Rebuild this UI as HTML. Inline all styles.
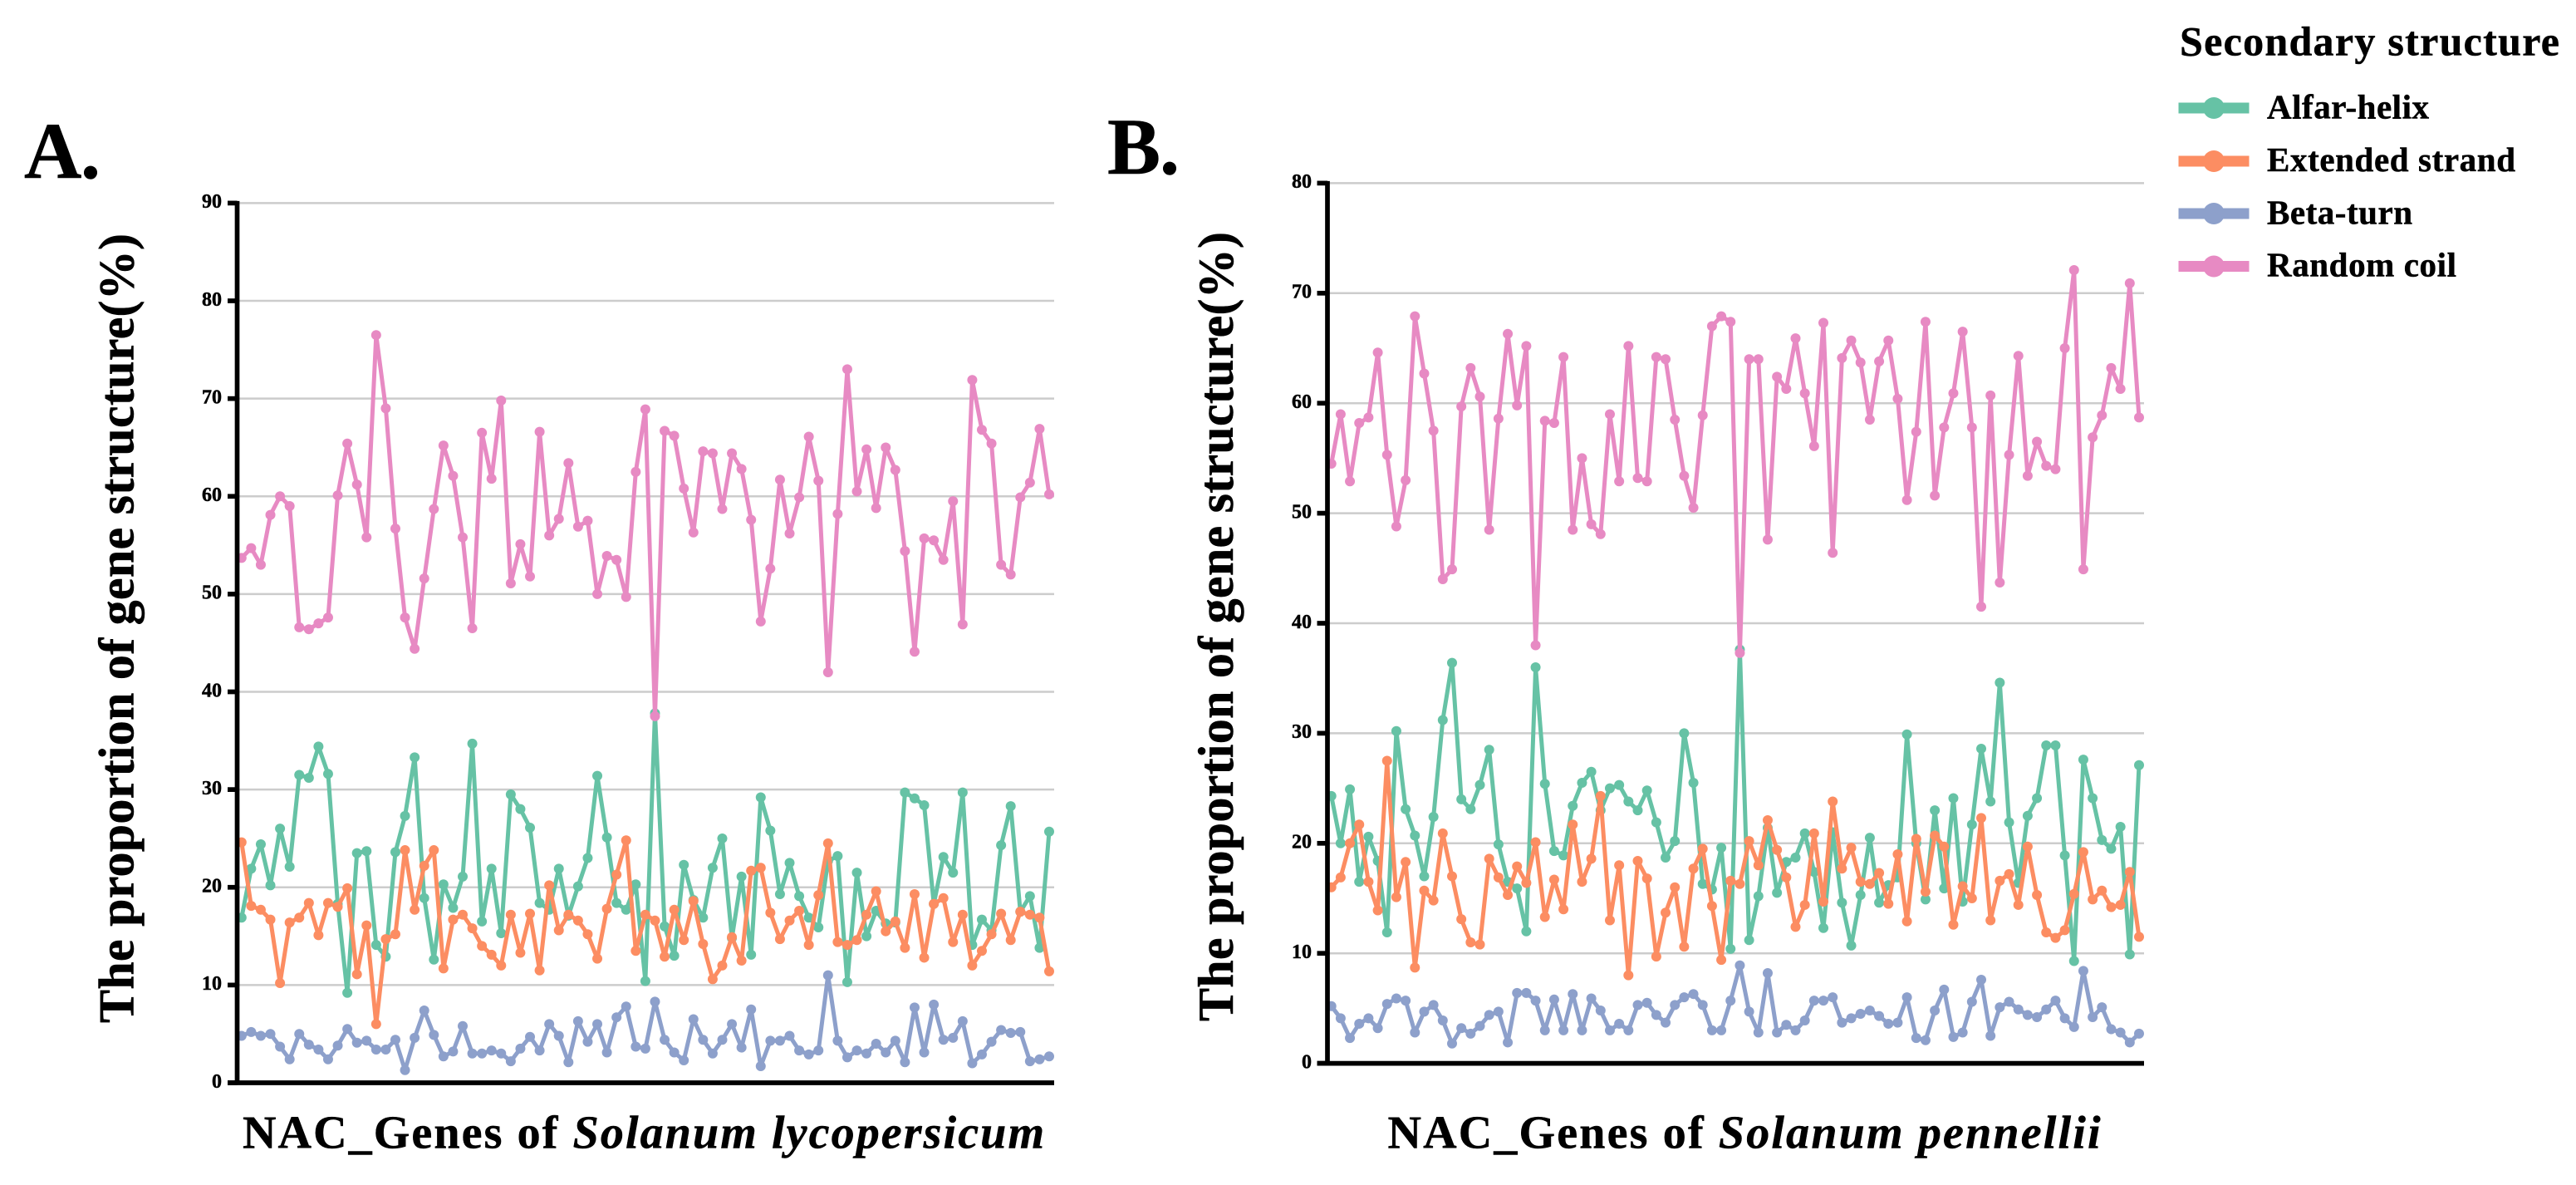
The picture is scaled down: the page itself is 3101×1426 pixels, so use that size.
<!DOCTYPE html>
<html lang="en">
<head>
<meta charset="utf-8">
<title>Secondary structure of NAC genes</title>
<style>
html,body{margin:0;padding:0;background:#fff;}
svg{display:block;font-family:"Liberation Serif",serif;font-weight:bold;fill:#000;}
svg text{stroke:#000;stroke-width:0.5px;}
</style>
</head>
<body>
<svg id="figure" width="3101" height="1426" viewBox="0 0 3101 1426" xmlns="http://www.w3.org/2000/svg">
  <rect x="0" y="0" width="3101" height="1426" fill="#fff"/>
  <text x="29" y="214" font-size="96" textLength="92" lengthAdjust="spacing">A.</text>
  <text x="1333" y="209" font-size="96" textLength="87" lengthAdjust="spacing">B.</text>

  <g id="chart-a"></g>
  <g id="chart-b"></g>

  <text transform="translate(160.5,1231) rotate(-90)" font-size="60" textLength="950" lengthAdjust="spacing">The proportion of gene structure(%)</text>
  <text transform="translate(1484,1229) rotate(-90)" font-size="60" textLength="950" lengthAdjust="spacing">The proportion of gene structure(%)</text>
  <text x="292" y="1381.5" font-size="56" textLength="965" lengthAdjust="spacing">NAC_Genes of <tspan font-style="italic">Solanum lycopersicum</tspan></text>
  <text x="1670.5" y="1381.5" font-size="56" textLength="858" lengthAdjust="spacing">NAC_Genes of <tspan font-style="italic">Solanum pennellii</tspan></text>

  <g>
    <text x="2624" y="66.5" font-size="50" textLength="457" lengthAdjust="spacing">Secondary structure</text>
    <g>
      <rect x="2622.5" y="123.5" width="85" height="13" fill="#66c2a5"/>
      <circle cx="2665" cy="130" r="13" fill="#66c2a5"/>
      <text x="2729" y="142.5" font-size="41" textLength="195" lengthAdjust="spacing">Alfar-helix</text>
    </g>
    <g>
      <rect x="2622.5" y="187.5" width="85" height="13" fill="#fc8d62"/>
      <circle cx="2665" cy="194" r="13" fill="#fc8d62"/>
      <text x="2729" y="206" font-size="41" textLength="299" lengthAdjust="spacing">Extended strand</text>
    </g>
    <g>
      <rect x="2622.5" y="250.5" width="85" height="13" fill="#8da0cb"/>
      <circle cx="2665" cy="257" r="13" fill="#8da0cb"/>
      <text x="2729" y="269.5" font-size="41" textLength="175" lengthAdjust="spacing">Beta-turn</text>
    </g>
    <g>
      <rect x="2622.5" y="314" width="85" height="13" fill="#e78ac3"/>
      <circle cx="2665" cy="320.5" r="13" fill="#e78ac3"/>
      <text x="2729" y="332.5" font-size="41" textLength="228" lengthAdjust="spacing">Random coil</text>
    </g>
  </g>
</svg>
<script>
var ticksA = [0,10,20,30,40,50,60,70,80,90];
var ticksB = [0,10,20,30,40,50,60,70,80];

var helixA = [16.9,21.9,24.4,20.2,26.0,22.1,31.5,31.2,34.4,31.6,18.3,9.2,23.5,23.7,14.1,12.9,23.6,27.3,33.3,18.9,12.6,20.3,17.9,21.1,34.7,16.5,21.9,15.3,29.5,28.0,26.1,18.4,17.7,21.9,17.1,20.1,23.0,31.4,25.1,18.4,17.7,20.3,10.4,37.8,16.0,13.0,22.3,18.7,16.9,22.0,25.0,14.8,21.1,13.1,29.2,25.8,19.3,22.5,19.1,16.9,15.9,22.7,23.2,10.3,21.5,15.0,17.6,16.3,16.4,29.7,29.1,28.4,18.3,23.1,21.5,29.7,14.1,16.7,15.6,24.3,28.3,17.5,19.1,13.8,25.7];
var strandA = [24.6,18.1,17.7,16.7,10.2,16.4,16.9,18.4,15.1,18.4,18.0,19.9,11.1,16.1,6.0,14.7,15.2,23.8,17.7,22.2,23.8,11.7,16.7,17.2,15.8,14.0,13.1,12.0,17.2,13.3,17.3,11.5,20.2,15.6,17.2,16.6,15.2,12.7,17.8,21.3,24.8,13.5,17.2,16.6,12.9,17.7,14.6,18.6,14.2,10.6,12.0,14.9,12.5,21.7,22.0,17.4,14.7,16.6,17.6,14.1,19.2,24.5,14.4,14.1,14.6,17.2,19.6,15.5,16.5,13.8,19.3,12.8,18.3,18.9,14.4,17.2,12.0,13.5,15.2,17.3,14.6,17.5,17.2,16.9,11.4];
var turnA = [4.8,5.2,4.8,5.0,3.7,2.4,5.0,3.9,3.4,2.4,3.8,5.5,4.1,4.3,3.4,3.4,4.4,1.3,4.6,7.4,4.9,2.7,3.2,5.8,3.0,3.0,3.3,3.0,2.2,3.5,4.7,3.3,6.0,4.8,2.1,6.3,4.2,6.0,3.1,6.7,7.8,3.7,3.5,8.3,4.4,3.1,2.3,6.5,4.4,3.0,4.4,6.0,3.6,7.5,1.7,4.3,4.3,4.8,3.3,2.9,3.3,11.0,4.3,2.6,3.3,3.0,4.0,3.1,4.3,2.1,7.7,3.1,8.0,4.4,4.6,6.3,2.0,2.9,4.2,5.4,5.1,5.2,2.2,2.4,2.7];
var coilA = [53.7,54.7,53.0,58.1,60.0,59.0,46.6,46.4,47.0,47.6,60.1,65.4,61.2,55.8,76.5,69.0,56.7,47.6,44.4,51.6,58.7,65.2,62.1,55.8,46.5,66.5,61.8,69.8,51.1,55.1,51.8,66.6,56.0,57.7,63.4,56.9,57.5,50.0,53.9,53.5,49.7,62.5,68.9,37.5,66.7,66.2,60.8,56.3,64.6,64.4,58.7,64.4,62.8,57.6,47.2,52.6,61.7,56.2,59.9,66.1,61.6,42.0,58.2,73.0,60.5,64.8,58.8,65.0,62.7,54.4,44.1,55.7,55.5,53.5,59.5,46.9,71.9,66.8,65.4,53.0,52.0,59.9,61.4,66.9,60.2];

var helixB = [24.3,20.0,24.9,16.5,20.6,18.4,11.9,30.2,23.1,20.7,17.0,22.4,31.2,36.4,24.0,23.1,25.3,28.5,19.9,16.5,15.9,12.0,36.0,25.4,19.3,18.9,23.4,25.5,26.5,23.0,25.0,25.3,23.8,23.0,24.8,21.9,18.7,20.2,30.0,25.5,16.3,15.8,19.6,10.4,37.6,11.2,15.2,21.4,15.5,18.3,18.7,20.9,17.4,12.3,21.0,14.6,10.7,15.3,20.5,14.6,16.2,16.9,29.9,20.0,14.9,23.0,15.9,24.1,14.7,21.7,28.6,23.8,34.6,21.9,16.4,22.5,24.1,28.9,28.9,18.9,9.3,27.6,24.1,20.3,19.5,21.5,9.9,27.1];
var strandB = [16.0,16.9,20.0,21.7,16.5,13.9,27.5,15.1,18.3,8.7,15.7,14.8,20.9,17.0,13.1,11.0,10.8,18.6,16.9,15.3,17.9,16.4,20.1,13.3,16.7,14.0,21.7,16.5,18.6,24.3,13.0,18.0,8.0,18.4,16.8,9.7,13.7,16.0,10.6,17.7,19.5,14.3,9.4,16.6,16.3,20.2,18.0,22.1,19.4,16.9,12.4,14.4,20.9,14.7,23.8,17.7,19.6,16.5,16.3,17.3,14.5,19.0,12.9,20.4,15.6,20.7,19.7,12.6,16.1,15.0,22.3,13.0,16.6,17.2,14.4,19.7,15.3,11.9,11.4,12.1,15.4,19.2,14.9,15.7,14.2,14.4,17.4,11.5];
var turnB = [5.2,4.1,2.3,3.6,4.1,3.2,5.4,5.9,5.7,2.8,4.7,5.3,3.9,1.8,3.2,2.7,3.4,4.4,4.7,1.9,6.4,6.4,5.7,3.0,5.8,3.0,6.3,3.0,5.9,4.8,3.0,3.6,3.0,5.3,5.5,4.4,3.7,5.3,6.0,6.3,5.3,3.0,3.0,5.7,8.9,4.7,2.8,8.2,2.8,3.5,3.0,3.9,5.7,5.7,6.0,3.7,4.1,4.5,4.8,4.3,3.6,3.7,6.0,2.3,2.1,4.8,6.7,2.4,2.8,5.6,7.6,2.5,5.1,5.6,4.9,4.4,4.2,4.9,5.7,4.1,3.3,8.4,4.2,5.1,3.1,2.8,1.9,2.7];
var coilB = [54.5,59.0,52.9,58.2,58.7,64.6,55.3,48.8,53.0,67.9,62.7,57.5,44.0,44.9,59.7,63.2,60.6,48.5,58.6,66.3,59.8,65.2,38.0,58.4,58.2,64.2,48.5,55.0,49.0,48.1,59.0,52.9,65.2,53.2,52.9,64.2,64.0,58.5,53.4,50.5,58.9,67.0,67.9,67.4,37.3,64.0,64.0,47.6,62.4,61.3,65.9,60.9,56.1,67.3,46.4,64.1,65.7,63.7,58.5,63.8,65.7,60.4,51.2,57.4,67.4,51.6,57.8,60.9,66.5,57.8,41.5,60.7,43.7,55.3,64.3,53.4,56.5,54.3,54.0,65.0,72.1,44.9,56.9,58.9,63.2,61.3,70.9,58.7];

var seriesNames = ['alfar-helix','extended-strand','beta-turn','random-coil'];
var seriesColors = ['#66c2a5','#fc8d62','#8da0cb','#e78ac3'];

var SVG_NS = 'http://www.w3.org/2000/svg';

function scaleLinear(d0, d1, r0, r1) {
  return function (v) { return r0 + (v - d0) * (r1 - r0) / (d1 - d0); };
}

function drawChart(rootId, prefix, layout, ticks, allSeries) {
  var root = document.getElementById(rootId);
  var maxTick = ticks[ticks.length - 1];
  var y = scaleLinear(0, maxTick, layout.yBottom, layout.yTop);
  var count = allSeries[0].length;
  var x = scaleLinear(0, count - 1, layout.xFirst, layout.xLast);

  ticks.forEach(function (t) {
    if (t !== 0) {
      var grid = document.createElementNS(SVG_NS, 'line');
      
      
      grid.setAttribute('x1', layout.axisX);
      grid.setAttribute('x2', layout.gridEnd);
      grid.setAttribute('y1', y(t));
      grid.setAttribute('y2', y(t));
      grid.setAttribute('stroke', '#cccccc');
      grid.setAttribute('stroke-width', '2.5');
      root.appendChild(grid);
    }
  });

  allSeries.forEach(function (values, s) {
    var group = document.createElementNS(SVG_NS, 'g');
    
    
    var d = values.map(function (v, i) { return (i ? 'L' : 'M') + x(i).toFixed(2) + ' ' + y(v).toFixed(2); }).join(' ');
    var line = document.createElementNS(SVG_NS, 'path');
    
    
    line.setAttribute('d', d);
    line.setAttribute('fill', 'none');
    line.setAttribute('stroke', seriesColors[s]);
    line.setAttribute('stroke-width', '5');
    line.setAttribute('stroke-linejoin', 'round');
    group.appendChild(line);
    values.forEach(function (v, i) {
      var pt = document.createElementNS(SVG_NS, 'circle');
      
      
      pt.setAttribute('cx', x(i).toFixed(2));
      pt.setAttribute('cy', y(v).toFixed(2));
      pt.setAttribute('r', '6');
      pt.setAttribute('fill', seriesColors[s]);
      group.appendChild(pt);
    });
    root.appendChild(group);
  });

  var yAxis = document.createElementNS(SVG_NS, 'line');
  
  
  yAxis.setAttribute('x1', layout.axisX);
  yAxis.setAttribute('x2', layout.axisX);
  yAxis.setAttribute('y1', layout.yTop - 2.5);
  yAxis.setAttribute('y2', layout.yBottom + 2.5);
  yAxis.setAttribute('stroke', '#000');
  yAxis.setAttribute('stroke-width', '5.7');
  root.appendChild(yAxis);

  var xAxis = document.createElementNS(SVG_NS, 'line');
  
  
  xAxis.setAttribute('x1', layout.tickLeft);
  xAxis.setAttribute('x2', layout.gridEnd);
  xAxis.setAttribute('y1', layout.yBottom);
  xAxis.setAttribute('y2', layout.yBottom);
  xAxis.setAttribute('stroke', '#000');
  xAxis.setAttribute('stroke-width', '5.7');
  root.appendChild(xAxis);

  ticks.forEach(function (t) {
    var tick = document.createElementNS(SVG_NS, 'line');
    
    
    tick.setAttribute('x1', layout.tickLeft);
    tick.setAttribute('x2', layout.axisX);
    tick.setAttribute('y1', y(t));
    tick.setAttribute('y2', y(t));
    tick.setAttribute('stroke', '#000');
    tick.setAttribute('stroke-width', '5.7');
    root.appendChild(tick);

    var label = document.createElementNS(SVG_NS, 'text');
    
    
    label.setAttribute('x', layout.labelRight);
    label.setAttribute('y', y(t) + 5.8);
    label.setAttribute('font-size', '24');
    label.setAttribute('text-anchor', 'end');
    label.textContent = String(t);
    root.appendChild(label);
  });
}

var layoutA = { axisX: 285.5, xFirst: 290.8, xLast: 1263, yTop: 244.4, yBottom: 1303, gridEnd: 1269, tickLeft: 274, labelRight: 267 };
var layoutB = { axisX: 1598, xFirst: 1602.7, xLast: 2575, yTop: 220.4, yBottom: 1279.6, gridEnd: 2581, tickLeft: 1585.5, labelRight: 1579 };

drawChart('chart-a', 'chart-a', layoutA, ticksA, [helixA, strandA, turnA, coilA]);
drawChart('chart-b', 'chart-b', layoutB, ticksB, [helixB, strandB, turnB, coilB]);
</script>
</body>
</html>
